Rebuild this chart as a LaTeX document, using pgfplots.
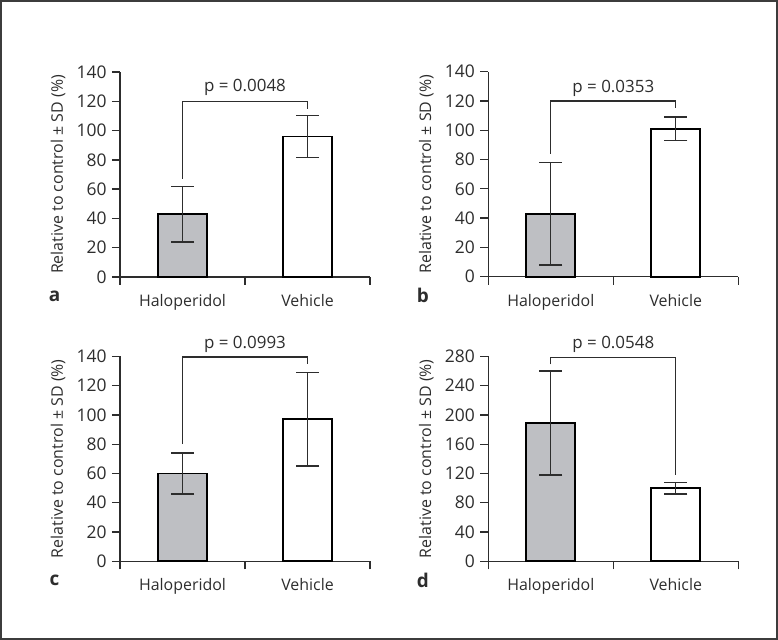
\documentclass[border=0pt]{standalone}
\usepackage{fontspec}
\setmainfont{Open Sans}
\usepackage{pgfplots}
\pgfplotsset{compat=1.18}
\definecolor{bargray}{RGB}{190,191,195}
\definecolor{ink}{RGB}{45,45,45}
\definecolor{frame}{RGB}{60,60,60}

\tikzset{
  plab/.style={anchor=base, font=\fontsize{17}{20}\selectfont},
  letter/.style={font=\fontsize{19}{22}\selectfont\bfseries},
}
\pgfplotsset{
  panel/.style={
    at={#1}, anchor=south west, scale only axis, width=250bp, height=205bp,
    xmin=0, xmax=2, ymin=0,
    axis lines=left, axis line style={ink, line width=1.3bp, -},
    tick align=outside, tick style={ink, line width=1.3bp},
    major tick length=8bp, minor tick length=8bp,
    xtick={0.5,1.5}, xticklabels={Haloperidol,Vehicle}, minor xtick={0,1,2},
    every major x tick/.append style={draw=none},
    xticklabel style={yshift=-4bp},
    yticklabel style={font=\fontsize{17.5}{20}\selectfont},
    /pgf/number format/assume math mode=true,
    ylabel={Relative to control ± SD (\%)},
    ylabel style={at={(axis description cs:-0.248,0.5)}, anchor=center},
    clip=false,
  },
  hal/.style={ybar, bar width=49bp, bar shift=0pt, fill=bargray, draw=black, line width=1.8bp,
    error bars/.cd, y dir=both, y explicit,
    error bar style={ink, line width=1.3bp},
    error mark options={rotate=90, ink, line width=1.3bp, mark size=11.5bp}},
  veh/.style={ybar, bar width=49bp, bar shift=0pt, fill=white, draw=black, line width=1.8bp,
    error bars/.cd, y dir=both, y explicit,
    error bar style={ink, line width=1.3bp},
    error mark options={rotate=90, ink, line width=1.3bp, mark size=11.5bp}},
  bracket/.style={ink, line width=1.3bp, mark=none},
}

\begin{document}
\fontsize{16}{19}\selectfont\color{ink}%
\begin{tikzpicture}
\path[use as bounding box] (0,0) rectangle (778bp,640bp);
\draw[frame, line width=1.6bp] (0.8bp,0.8bp) rectangle (777.2bp,639.2bp);

% panel a
\begin{axis}[panel={(120bp,363bp)}, ymax=140, ytick distance=20]
\addplot[hal] coordinates {(0.5,43) +- (0,19)};
\addplot[veh] coordinates {(1.5,96) +- (0,14.5)};
\addplot[bracket] coordinates {(0.5,67) (0.5,120) (1.5,120) (1.5,115)};
\node[plab] at (axis cs:1,126.6) {p = 0.0048};
\node[letter] at (axis description cs:-0.262,-0.093) {a};
\end{axis}

% panel b
\begin{axis}[panel={(488.3bp,363.3bp)}, ymax=140, ytick distance=20]
\addplot[hal] coordinates {(0.5,43) +- (0,35)};
\addplot[veh] coordinates {(1.5,101) +- (0,8)};
\addplot[bracket] coordinates {(0.5,84) (0.5,120) (1.5,120) (1.5,115)};
\node[plab] at (axis cs:1,126) {p = 0.0353};
\node[letter] at (axis description cs:-0.262,-0.093) {b};
\end{axis}

% panel c
\begin{axis}[panel={(120bp,78.7bp)}, ymax=140, ytick distance=20]
\addplot[hal] coordinates {(0.5,60) +- (0,14)};
\addplot[veh] coordinates {(1.5,97) +- (0,32)};
\addplot[bracket] coordinates {(0.5,80) (0.5,139.5) (1.5,139.5) (1.5,135)};
\node[plab] at (axis cs:1,145.2) {p = 0.0993};
\node[letter] at (axis description cs:-0.262,-0.093) {c};
\end{axis}

% panel d
\begin{axis}[panel={(488.3bp,78.7bp)}, ymax=280, ytick distance=40]
\addplot[hal] coordinates {(0.5,189) +- (0,71)};
\addplot[veh] coordinates {(1.5,100) +- (0,8)};
\addplot[bracket] coordinates {(0.5,269) (0.5,278) (1.5,278) (1.5,118)};
\node[plab] at (axis cs:1,290.6) {p = 0.0548};
\node[letter] at (axis description cs:-0.262,-0.093) {d};
\end{axis}
\end{tikzpicture}
\end{document}
